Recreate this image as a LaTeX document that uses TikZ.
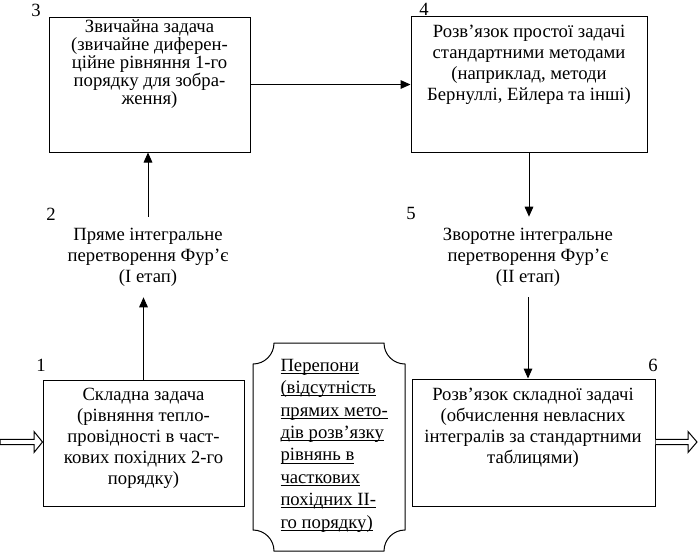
\documentclass[tikz,border=0pt]{standalone}
\usepackage{fontspec}
\setmainfont{Liberation Serif}
\usetikzlibrary{arrows.meta,fit}
\newcommand\ulx[1]{\mbox{\setbox0=\hbox{#1}\rlap{\rule[-2pt]{\wd0}{0.6pt}}\box0}}
\begin{document}
\begin{tikzpicture}[x=0.75pt,y=-0.75pt,line width=0.75pt,
  box/.style={draw, line width=0.75pt, inner sep=0pt},
  txt/.style={align=center, font=\fontsize{14}{15.75}\selectfont, inner sep=0pt},
  lbl/.style={align=center, font=\fontsize{14}{15.75}\selectfont, inner xsep=0pt, inner ysep=8pt},
  num/.style={font=\fontsize{14}{16}\selectfont, inner sep=0pt},
  arr/.style={line width=0.75pt, -{Triangle[length=7.5pt,width=6.5pt]}},
  blockarrow/.style={line width=0.75pt, fill=white}]
\useasboundingbox (0,0) rectangle (700,558);

% boxes
\node[box, fit={(49,17) (250,152)}] (b3) {};
\node[box, fit={(411,16) (647,152)}] (b4) {};
\node[box, fit={(43,380) (244,506)}] (b1) {};
\node[box, fit={(412,379) (655,506)}] (b6) {};

% box texts
\node[txt, font=\fontsize{14}{13.5}\selectfont] (t3) at (149.5,64)
  {Звичайна задача\\(звичайне диферен-\\ційне рівняння 1-го\\порядку для зобра-\\ження)};
\node[txt] (t4) at (529,65)
  {Розв’язок простої задачі\\стандартними методами\\(наприклад, методи\\Бернуллі, Ейлера та інші)};
\node[txt] (t1) at (143.5,438.5)
  {Складна задача\\(рівняння тепло-\\провідності в част-\\кових похідних 2-го\\порядку)};
\node[txt] (t6) at (533,428)
  {Розв’язок складної задачі\\(обчислення невласних\\інтегралів за стандартними\\таблицями)};

% stage labels
\node[lbl] (t2) at (148,257) {Пряме інтегральне\\перетворення Фур’є\\(І етап)};
\node[lbl] (t5) at (528,257) {Зворотне інтегральне\\перетворення Фур’є\\(ІІ етап)};

% numbers
\node[num] (n3) at (36,10) {3};
\node[num] (n4) at (424,9) {4};
\node[num] (n2) at (51,214) {2};
\node[num] (n5) at (411,213) {5};
\node[num] (n1) at (41,365) {1};
\node[num] (n6) at (653,365) {6};

% obstacle plaque
\draw (274,343) -- (384,343)
  .. controls (384,354.6) and (393.4,364) .. (405,364)
  -- (405,530)
  .. controls (393.4,530) and (384,539.4) .. (384,551)
  -- (274,551)
  .. controls (274,539.4) and (264.6,530) .. (253,530)
  -- (253,364)
  .. controls (264.6,364) and (274,354.6) .. (274,343) -- cycle;
\node[align=left, anchor=west, inner sep=0pt, font=\fontsize{14}{16.8}\selectfont] (tp) at (280,445.5)
  {\ulx{Перепони}\\\ulx{(відсутність}\\\ulx{прямих мето-}\\\ulx{дів розв’язку}\\\ulx{рівнянь в}\\\ulx{часткових}\\\ulx{похідних ІІ-}\\\ulx{го порядку)}};

% connectors
\draw[arr] (b1.north) -- (b1.north |- t2.south);
\draw[arr] (t2.north) -- (t2.north |- b3.south);
\draw[arr] (b3.east) -- (b3.east -| b4.west);
\draw[arr] (b4.south) -- (b4.south |- t5.north);
\draw[arr] (t5.south) -- (t5.south |- b6.north);

% block arrows
\draw[blockarrow] (0,439.3) -- (34,439.3) -- (34,431.5) -- (b1.west |- 0,442) -- (34,452.5) -- (34,444.7) -- (0,444.7) -- cycle;
\draw[blockarrow] (b6.east |- 0,439.3) -- (688,439.3) -- (688,431.5) -- (697,442) -- (688,452.5) -- (688,444.7) -- (b6.east |- 0,444.7);
\end{tikzpicture}
\end{document}
